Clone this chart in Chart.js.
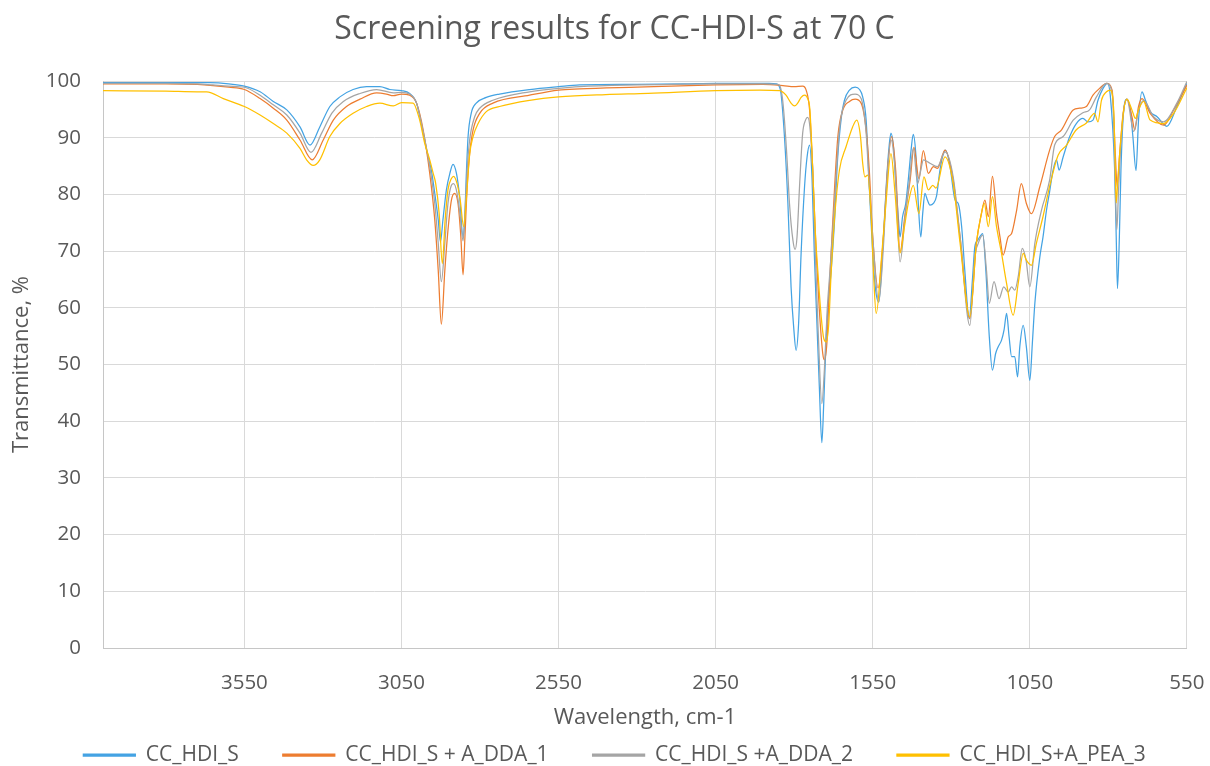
<!DOCTYPE html>
<html>
<head>
<meta charset="utf-8">
<script src="https://cdn.jsdelivr.net/npm/chart.js@4.4.1/dist/chart.umd.min.js"></script>
<style>html,body{margin:0;padding:0;background:#fff}canvas{display:block}</style>
</head>
<body>
<canvas id="c" width="1210" height="766"></canvas>
<script>
// ---- data (wavenumber, cm-1 / transmittance, %) ----
const chartTitle = 'Screening results for CC-HDI-S at 70 C';
const xTitle = 'Wavelength, cm-1';
const yTitle = 'Transmittance, %';
const seriesNames = ['CC_HDI_S', 'CC_HDI_S + A_DDA_1', 'CC_HDI_S +A_DDA_2', 'CC_HDI_S+A_PEA_3'];
const xTickValues = [3550, 3050, 2550, 2050, 1550, 1050, 550];
const xTickLabels = ['3550', '3050', '2550', '2050', '1550', '1050', '550'];

const hdiX = [4000,3800,3700,3659,3600,3550,3500,3458,3415,3373,3341,3310,3278,3246,3204,3161,3119,3087,3050,3024,3002,2981,2965,2955,2944,2933,2926,2918,2907,2896,2886,2875,2865,2854,2849,2843,2838,2828,2812,2780,2738,2642,2550,2483,2300,2150,2050,1950,1880,1857,1847,1842,1831,1820,1810,1801,1794,1786,1778,1767,1759,1751,1743,1736,1728,1720,1712,1706,1698,1690,1683,1672,1662,1651,1640,1624,1606,1592,1582,1571,1561,1550,1542,1531,1516,1506,1497,1492,1484,1477,1468,1463,1455,1445,1437,1428,1421,1413,1405,1397,1391,1384,1376,1368,1357,1347,1336,1325,1318,1304,1288,1278,1267,1257,1243,1232,1225,1216,1200,1190,1179,1169,1159,1151,1140,1132,1124,1116,1108,1098,1089,1082,1071,1061,1050,1042,1034,1018,1008,997,987,976,965,957,944,923,902,881,865,849,833,817,803,794,780,775,771,765,760,751,741,730,722,712,704,693,682,667,645,614,582,550];
const hdiY = [99.7,99.7,99.7,99.7,99.5,99.1,98.1,96.4,94.9,91.9,88.7,91.9,95.5,97.2,98.5,99.0,99.0,98.5,98.3,97.8,96.1,90.8,86.6,84.3,80.2,75.5,71.6,75.5,80.8,83.7,85.3,83.7,79.6,72.5,75.5,84.3,90.2,94.3,96.1,97.1,97.7,98.5,99.0,99.3,99.4,99.5,99.6,99.6,99.6,99.5,99.0,97.8,90.2,78.4,63.7,56.1,52.5,57.2,69.6,81.4,86.6,88.7,82.5,69.6,57.8,46.1,36.2,43.1,54.9,62.0,66.1,74.9,86.1,93.1,96.6,98.4,98.9,98.5,97.2,93.1,81.4,69.6,63.7,61.0,72.5,82.5,89.0,90.8,88.4,82.5,75.5,72.5,76.1,78.4,82.5,87.8,90.6,87.2,78.4,72.5,76.6,80.2,79.0,78.1,78.4,79.7,84.3,87.2,87.8,84.9,79.0,78.4,74.3,66.6,58.1,65.5,70.8,71.9,73.1,66.6,54.9,49.0,51.9,53.1,54.3,56.1,59.0,54.9,51.4,51.4,47.8,53.1,56.9,53.1,47.2,53.7,60.8,69.0,72.5,77.2,80.5,84.3,86.1,84.3,86.6,90.2,92.5,93.4,92.8,93.1,96.6,98.7,99.6,97.5,84.3,72.5,63.4,72.5,84.3,94.9,96.8,94.9,90.2,84.2,93.1,98.1,96.6,94.6,93.7,92.0,95.5,99.6];

const dda1X = [4000,3800,3700,3650,3600,3550,3500,3458,3415,3373,3334,3299,3267,3225,3182,3129,3098,3076,3050,3024,3002,2981,2960,2944,2933,2923,2912,2902,2891,2881,2870,2861,2854,2848,2841,2833,2822,2801,2759,2642,2550,2483,2300,2050,1900,1836,1800,1773,1762,1751,1741,1730,1720,1709,1704,1696,1688,1677,1661,1645,1624,1606,1587,1571,1561,1550,1533,1516,1503,1490,1477,1463,1447,1431,1419,1403,1389,1373,1357,1344,1320,1294,1272,1241,1220,1204,1193,1182,1169,1156,1145,1135,1119,1108,1092,1077,1061,1045,1018,987,971,949,912,891,870,849,828,806,788,778,772,764,753,741,725,716,704,693,667,624,592,550];
const dda1Y = [99.5,99.5,99.4,99.2,98.9,98.5,96.9,95.2,93.1,89.6,86.1,89.6,93.1,95.5,96.8,97.9,97.7,97.4,97.7,97.5,96.1,91.4,83.7,75.5,66.6,57.1,66.6,73.7,79.0,80.2,78.4,72.5,65.8,72.5,81.4,87.2,91.4,94.3,96.1,97.5,98.4,98.6,98.9,99.3,99.4,99.2,99.0,99.1,98.4,94.9,84.3,69.6,59.6,51.9,50.8,53.7,63.7,75.5,90.2,94.9,96.4,96.8,96.1,91.4,84.3,72.5,63.5,72.5,84.3,90.2,84.3,69.9,76.6,82.5,88.3,82.8,87.7,83.7,84.9,84.6,87.8,82.5,72.5,58.1,71.4,76.6,79.0,76.1,83.2,76.6,72.5,69.3,72.5,73.1,77.2,81.9,78.4,76.6,81.4,87.8,90.2,91.4,94.9,95.2,95.5,97.5,98.7,99.6,98.4,87.2,81.4,87.2,94.3,96.8,93.7,91.4,95.5,96.9,94.3,92.2,94.9,99.3];

const dda2X = [4000,3800,3700,3650,3600,3550,3500,3458,3415,3373,3338,3304,3272,3235,3182,3129,3076,3050,3024,3002,2981,2960,2944,2933,2923,2912,2902,2891,2884,2873,2863,2854,2848,2841,2833,2817,2801,2759,2642,2550,2483,2300,2050,1900,1855,1847,1838,1831,1822,1815,1804,1797,1791,1783,1773,1764,1757,1750,1741,1733,1723,1712,1704,1695,1686,1672,1656,1635,1606,1587,1571,1561,1550,1531,1516,1506,1492,1479,1463,1447,1433,1421,1407,1397,1389,1368,1344,1320,1294,1272,1241,1225,1214,1200,1188,1179,1164,1148,1133,1119,1108,1098,1087,1074,1062,1050,1034,1013,987,971,944,912,881,860,838,806,788,783,778,773,768,762,751,741,719,704,688,656,624,582,550];
const dda2Y = [99.6,99.6,99.5,99.3,99.1,98.9,97.5,95.8,94.0,90.8,87.4,90.8,94.3,96.4,97.8,98.5,97.9,98.0,97.7,96.1,91.1,84.9,78.4,71.4,64.6,71.4,78.4,81.6,81.9,80.2,76.1,71.8,76.6,84.3,89.6,93.7,95.2,96.6,98.1,98.7,99.0,99.3,99.5,99.5,99.4,99.3,97.2,93.1,85.5,78.4,71.9,70.3,72.5,81.4,90.8,93.1,93.6,91.9,84.3,69.6,54.9,43.1,49.0,59.6,66.6,78.4,91.4,96.6,97.7,96.9,90.8,81.4,72.5,61.0,70.8,81.4,89.6,84.3,68.1,76.1,82.5,88.1,81.9,84.3,86.1,85.5,84.9,87.5,83.1,72.5,56.9,69.0,71.4,72.8,66.6,60.8,64.6,61.6,63.7,62.8,63.7,63.1,65.5,70.5,68.4,63.7,71.4,77.2,82.5,88.7,90.2,93.1,94.4,94.9,97.2,99.6,97.8,93.1,81.4,73.8,80.2,87.2,94.9,96.8,91.1,94.9,96.6,93.7,92.8,96.1,99.9];

const pea3X = [4000,3800,3700,3670,3617,3550,3500,3458,3415,3373,3352,3331,3310,3278,3246,3204,3161,3119,3076,3050,3013,2992,2976,2960,2949,2941,2930,2920,2911,2902,2891,2884,2873,2863,2852,2843,2833,2822,2806,2780,2738,2642,2550,2400,2265,2050,1910,1847,1826,1810,1799,1789,1778,1767,1757,1750,1741,1733,1725,1714,1706,1698,1690,1683,1672,1656,1635,1614,1601,1589,1582,1575,1566,1555,1547,1539,1521,1508,1492,1479,1463,1449,1437,1421,1403,1387,1373,1359,1349,1320,1294,1272,1241,1220,1206,1195,1182,1169,1156,1140,1124,1103,1087,1071,1061,1045,1029,1008,987,960,933,902,870,844,833,822,806,794,783,779,775,770,764,751,741,725,714,704,688,667,624,592,550];
const pea3Y = [98.3,98.2,98.1,98.1,96.9,95.5,94.0,92.5,90.8,88.1,86.1,85.1,86.1,90.2,92.5,94.3,95.5,96.1,95.6,96.2,96.1,93.1,89.0,86.1,83.7,81.9,76.6,67.8,75.5,80.8,82.8,83.2,81.9,79.0,74.3,79.6,87.1,90.2,92.5,94.6,95.5,96.6,97.2,97.6,97.8,98.3,98.4,98.3,97.5,96.1,95.6,96.1,97.1,97.5,96.9,94.9,84.3,73.7,66.6,58.4,54.6,54.0,57.2,65.5,75.5,84.3,88.4,91.9,93.1,90.2,85.5,83.1,83.4,76.1,65.5,59.0,69.6,78.4,87.2,80.2,69.7,74.3,78.4,81.6,76.6,83.1,80.8,81.6,81.1,86.6,81.9,71.4,58.4,71.4,76.1,78.4,74.3,79.6,74.3,69.6,64.3,58.7,64.3,69.6,68.4,67.5,71.4,76.1,81.4,86.9,88.7,91.4,92.6,94.3,92.8,96.6,98.1,98.4,94.9,87.2,78.5,82.5,87.2,94.9,96.8,94.9,93.4,94.9,96.4,93.1,92.5,94.3,98.8];

const seriesColors = ['#44A3E3', '#ED7D31', '#A5A5A5', '#FFC000'];

// ---- chart ----
const FONT = '"Open Sans", sans-serif';
const TEXT = '#595959';
const toPoints = (xs, ys) => xs.map((x, i) => ({ x: x, y: ys[i] }));
const allX = [hdiX, dda1X, dda2X, pea3X];
const allY = [hdiY, dda1Y, dda2Y, pea3Y];

const datasets = seriesNames.map((name, i) => ({
  label: name,
  data: toPoints(allX[i], allY[i]),
  borderColor: seriesColors[i],
  backgroundColor: seriesColors[i],
  borderWidth: 1.25,
  pointRadius: 0,
  pointHoverRadius: 0,
  cubicInterpolationMode: 'monotone',
  fill: false,
  order: seriesNames.length - i
}));

new Chart(document.getElementById('c'), {
  type: 'line',
  data: { datasets: datasets },
  options: {
    responsive: false,
    animation: false,
    events: [],
    layout: { padding: { left: 24, right: 5, top: 0, bottom: -9.5 } },
    plugins: {
      title: {
        display: true, text: chartTitle, color: TEXT,
        font: { family: FONT, size: 32, weight: 'normal' },
        padding: { top: 10.8, bottom: 31.8 }
      },
      legend: {
        position: 'bottom', align: 'center',
        labels: {
          boxWidth: 52, boxHeight: 2, padding: 44, color: TEXT,
          font: { family: FONT, size: 21 },
          sort: (a, b) => a.datasetIndex - b.datasetIndex
        }
      },
      tooltip: { enabled: false }
    },
    scales: {
      x: {
        type: 'linear', reverse: true, min: 550, max: 4000,
        afterBuildTicks: s => { s.ticks = xTickValues.map(v => ({ value: v })); },
        afterFit: s => { s.height = 52.5; },
        ticks: {
          autoSkip: false, maxRotation: 0, color: TEXT, padding: 5.5,
          font: { family: FONT, size: 20.5 },
          callback: (v) => { const k = xTickValues.indexOf(v); return k >= 0 ? xTickLabels[k] : ''; }
        },
        grid: { color: '#D9D9D9', lineWidth: 1, drawTicks: true, tickLength: 17.2, tickColor: 'rgba(0,0,0,0)', tickWidth: 0 },
        border: { display: true, color: '#C6C6C6', width: 1 },
        title: {
          display: true, text: xTitle, color: TEXT,
          font: { family: FONT, size: 22 },
          padding: { top: 0, bottom: -30.7 }
        }
      },
      y: {
        min: 0, max: 100,
        afterFit: s => { s.width = 79; },
        ticks: { stepSize: 10, color: TEXT, padding: 22, font: { family: FONT, size: 20.5 } },
        grid: { color: '#D9D9D9', lineWidth: 1, drawTicks: false },
        border: { display: true, color: '#C6C6C6', width: 1 },
        title: {
          display: true, text: yTitle, color: TEXT,
          font: { family: FONT, size: 22 },
          padding: { top: -15.2, bottom: 0 }
        }
      }
    }
  }
});
</script>
</body>
</html>
